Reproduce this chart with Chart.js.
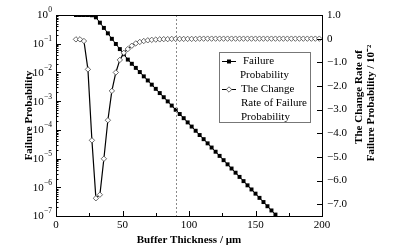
<!DOCTYPE html>
<html>
<head>
<meta charset="utf-8">
<script src="https://cdn.jsdelivr.net/npm/chart.js@4/dist/chart.umd.min.js"></script>
<style>
  html, body { margin: 0; padding: 0; background: #fff; }
  canvas { display: block; }
</style>
</head>
<body>
<canvas id="c" width="400" height="251"></canvas>
<script>
// ---- data ----
const thicknessFP = [15,18,21,24,27,30,33,36,39,42,45,48,51,54,57,60,63,66,69,72,75,78,81,84,87,90,93,96,99,102,105,108,111,114,117,120,123,126,129,132,135,138,141,144,147,150,153,156,159,162,165];
const failureProbability = [1.0,1.0,1.0,1.0,0.98,0.83,0.54,0.355,0.23,0.148,0.098,0.065,0.043,0.028,
  2.0e-2,1.44e-2,1.03e-2,7.3e-3,5.25e-3,3.75e-3,2.68e-3,1.91e-3,1.37e-3,9.8e-4,7.0e-4,5.0e-4,3.56e-4,2.55e-4,
  1.82e-4,1.30e-4,9.3e-5,6.6e-5,4.74e-5,3.39e-5,2.42e-5,1.73e-5,1.24e-5,8.8e-6,6.3e-6,4.5e-6,3.22e-6,2.30e-6,
  1.64e-6,1.17e-6,8.4e-7,6.0e-7,4.28e-7,3.06e-7,2.19e-7,1.56e-7,1.12e-7];

const thicknessRate = [15,18,21,24,27,30,33,36,39,42,45,48,51,54,57,60,63,66,69,72,75,78,81,84,87,90,93,96,99,102,105,108,111,114,117,120,123,126,129,132,135,138,141,144,147,150,153,156,159,162,165,168,171,174,177,180,183,186,189,192,195,198];
const changeRate = [-0.03,-0.03,-0.1,-1.3,-4.3,-6.75,-6.6,-5.08,-3.45,-2.21,-1.43,-0.9,-0.6,-0.44,-0.3,-0.2,-0.14,-0.1,-0.07,-0.05,-0.04,-0.03,-0.02,-0.02,-0.01,-0.01,-0.01,-0.01,-0.01,-0.01,-0.01,0,0,0,0,0,0,0,0,0,0,0,0,0,0,0,0,0,0,0,0,0,0,0,0,0,0,0,0,0,0,0];

const xMajorTicks = [0,50,100,150,200];
const xMinorTicks = [25,75,125,175];
const leftTickValues = [1,1e-1,1e-2,1e-3,1e-4,1e-5,1e-6,1e-7];
const leftTickBase = '10';
const leftTickExponents = ['0','−1','−2','−3','−4','−5','−6','−7'];
const rightTickValues = [1,0,-1,-2,-3,-4,-5,-6,-7];
const rightTickLabels = ['1.0','0','−1.0','−2.0','−3.0','−4.0','−5.0','−6.0','−7.0'];
const markerLineX = 90;

const FONT = '"Liberation Serif", "Times New Roman", serif';

const decor = {
  id: 'decor',
  afterDraw(chart) {
    const ctx = chart.ctx;
    const a = chart.chartArea;
    const sx = chart.scales.x, sy = chart.scales.y, sr = chart.scales.y1;
    ctx.save();
    // dashed vertical line
    const xv = Math.round(sx.getPixelForValue(markerLineX)) + 0.5;
    ctx.strokeStyle = '#8a8a8a'; ctx.lineWidth = 1; ctx.setLineDash([2, 2]);
    ctx.beginPath(); ctx.moveTo(xv, a.top); ctx.lineTo(xv, a.bottom); ctx.stroke();
    ctx.setLineDash([]);
    // frame top
    ctx.strokeStyle = '#000'; ctx.lineWidth = 1;
    ctx.beginPath(); ctx.moveTo(a.left, a.top + 0.5); ctx.lineTo(a.right, a.top + 0.5); ctx.stroke();
    // inward ticks
    ctx.beginPath();
    sx.ticks.forEach(t => {
      const p = Math.round(sx.getPixelForValue(t.value)) + 0.5;
      const len = xMajorTicks.includes(t.value) ? 5 : 3;
      ctx.moveTo(p, a.bottom); ctx.lineTo(p, a.bottom - len);
    });
    sy.ticks.forEach(t => {
      const p = Math.round(sy.getPixelForValue(t.value)) + 0.5;
      const e = Math.log10(t.value);
      const len = Math.abs(e - Math.round(e)) < 1e-6 ? 5 : 2.5;
      ctx.moveTo(a.left, p); ctx.lineTo(a.left + len, p);
    });
    sr.ticks.forEach(t => {
      const p = Math.round(sr.getPixelForValue(t.value)) + 0.5;
      ctx.moveTo(a.right, p); ctx.lineTo(a.right - 5, p);
    });
    ctx.stroke();
    // left tick labels: 10 with raised exponent
    ctx.fillStyle = '#000';
    ctx.textBaseline = 'middle';
    leftTickValues.forEach((v, i) => {
      const p = sy.getPixelForValue(v);
      const right = a.left - 4;
      ctx.font = '7.5px ' + FONT;
      const ew = ctx.measureText(leftTickExponents[i]).width;
      ctx.textAlign = 'left';
      ctx.fillText(leftTickExponents[i], right - ew, p - 4.5);
      ctx.font = '11px ' + FONT;
      ctx.textAlign = 'right';
      ctx.fillText(leftTickBase, right - ew - 0.3, p + 0.5);
    });
    // right axis title (two lines, reading upward)
    ctx.font = 'bold 11px ' + FONT;
    ctx.textAlign = 'center'; ctx.textBaseline = 'middle';
    ctx.save(); ctx.translate(359, 97); ctx.rotate(-Math.PI / 2);
    ctx.fillText('The Change Rate of', 0, 0); ctx.restore();
    ctx.save(); ctx.translate(371, 103); ctx.rotate(-Math.PI / 2);
    ctx.fillText('Failure Probability / 10⁻²', 0, 0); ctx.restore();
    // legend
    ctx.strokeStyle = '#777'; ctx.lineWidth = 1;
    ctx.fillStyle = '#fff';
    ctx.fillRect(219.5, 52.5, 91, 70);
    ctx.strokeRect(219.5, 52.5, 91, 70);
    ctx.strokeStyle = '#000';
    ctx.beginPath();
    ctx.moveTo(222, 61.5); ctx.lineTo(236, 61.5);
    ctx.moveTo(222, 89.5); ctx.lineTo(236, 89.5);
    ctx.stroke();
    ctx.fillStyle = '#000';
    ctx.fillRect(227, 59.5, 4, 4);
    ctx.beginPath();
    ctx.moveTo(229, 86.8); ctx.lineTo(231.7, 89.5); ctx.lineTo(229, 92.2); ctx.lineTo(226.3, 89.5); ctx.closePath();
    ctx.fillStyle = '#fff'; ctx.fill(); ctx.strokeStyle = '#444'; ctx.lineWidth = 0.8; ctx.stroke();
    ctx.fillStyle = '#000';
    ctx.font = '11px ' + FONT;
    ctx.textAlign = 'left';
    ctx.fillText('Failure', 243, 61);
    ctx.fillText('Probability', 240, 75);
    ctx.fillText('The Change', 241, 89);
    ctx.fillText('Rate of Failure', 241, 103);
    ctx.fillText('Probability', 241, 117);
    ctx.restore();
  }
};

new Chart(document.getElementById('c'), {
  type: 'line',
  data: {
    datasets: [
      {
        label: 'The Change Rate of Failure Probability',
        data: thicknessRate.map((x, i) => ({ x, y: changeRate[i] })),
        yAxisID: 'y1',
        borderColor: '#000', borderWidth: 1.2,
        pointStyle: 'rectRot', pointRadius: 2.7,
        pointBackgroundColor: '#fff', pointBorderColor: '#444', pointBorderWidth: 0.8,
        tension: 0, fill: false
      },
      {
        label: 'Failure Probability',
        data: thicknessFP.map((x, i) => ({ x, y: failureProbability[i] })),
        yAxisID: 'y',
        borderColor: '#000', borderWidth: 1,
        pointStyle: 'rect', pointRadius: 2.8,
        pointBackgroundColor: '#000', pointBorderColor: '#000', pointBorderWidth: 0,
        tension: 0, fill: false
      }
    ]
  },
  options: {
    responsive: false, animation: false, devicePixelRatio: 1,
    layout: { padding: { top: 15, left: 0, right: 0, bottom: 0 } },
    plugins: { legend: { display: false }, tooltip: { enabled: false } },
    scales: {
      x: {
        type: 'linear', min: 0, max: 200,
        afterBuildTicks(s) { s.ticks = xMajorTicks.concat(xMinorTicks).sort((a, b) => a - b).map(v => ({ value: v })); },
        afterFit(s) { s.height = 35; },
        grid: { display: false, drawTicks: false },
        border: { display: true, color: '#000', width: 1 },
        ticks: {
          autoSkip: false, maxRotation: 0, padding: 2.5, color: '#000',
          font: { family: FONT, size: 11 },
          callback: v => xMajorTicks.includes(v) ? String(v) : ''
        },
        title: { display: true, text: 'Buffer Thickness / µm', color: '#000',
          font: { family: FONT, size: 11, weight: 'bold' }, padding: { top: 0, bottom: 4.4 } }
      },
      y: {
        type: 'logarithmic', position: 'left', min: 1e-7, max: 1,
        afterBuildTicks(s) {
          const vals = [];
          leftTickValues.forEach(d => { vals.push(d); if (d < 1) for (let k = 2; k <= 9; k++) vals.push(d * k); });
          s.ticks = vals.sort((a, b) => a - b).map(v => ({ value: v }));
        },
        afterFit(s) { s.width = 56; },
        grid: { display: false, drawTicks: false },
        border: { display: true, color: '#000', width: 1 },
        ticks: { autoSkip: false, padding: 4, callback: () => '' },
        title: { display: true, text: 'Failure Probability', color: '#000',
          font: { family: FONT, size: 11, weight: 'bold' }, padding: { top: 22.3, bottom: 0 } }
      },
      y1: {
        type: 'linear', position: 'right', min: -7.5, max: 1,
        afterBuildTicks(s) { s.ticks = rightTickValues.map(v => ({ value: v })); },
        afterFit(s) { s.width = 78; },
        grid: { display: false, drawTicks: false },
        border: { display: true, color: '#000', width: 1 },
        ticks: {
          autoSkip: false, padding: 5, color: '#000',
          font: { family: FONT, size: 11 },
          callback: v => { const i = rightTickValues.indexOf(v); return i >= 0 ? rightTickLabels[i] : ''; }
        }
      }
    }
  },
  plugins: [decor]
});
</script>
</body>
</html>
